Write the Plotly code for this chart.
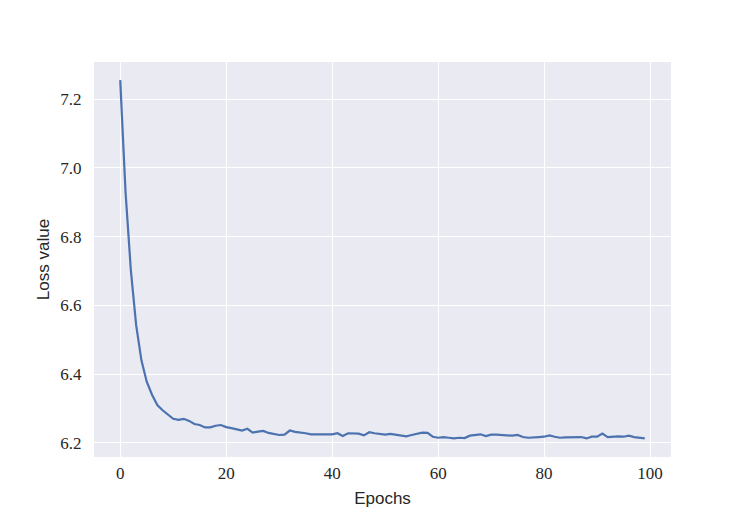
import plotly.graph_objects as go

epochs = list(range(100))
loss = [
    7.255, 6.930, 6.703, 6.543, 6.440, 6.378, 6.340, 6.310, 6.295, 6.283,
    6.270, 6.267, 6.270, 6.264, 6.255, 6.252, 6.245, 6.245, 6.250, 6.252,
    6.246, 6.243, 6.239, 6.236, 6.241, 6.230, 6.233, 6.235, 6.229, 6.225,
    6.223, 6.224, 6.236, 6.232, 6.231, 6.228, 6.225, 6.225, 6.226, 6.226,
    6.225, 6.228, 6.220, 6.228, 6.228, 6.227, 6.222, 6.231, 6.228, 6.227,
    6.224, 6.226, 6.224, 6.222, 6.219, 6.223, 6.227, 6.230, 6.229, 6.218,
    6.215, 6.217, 6.215, 6.213, 6.215, 6.214, 6.221, 6.222, 6.225, 6.220,
    6.224, 6.224, 6.223, 6.222, 6.221, 6.223, 6.217, 6.215, 6.215, 6.217,
    6.218, 6.222, 6.218, 6.215, 6.216, 6.216, 6.217, 6.217, 6.213, 6.218,
    6.218, 6.227, 6.217, 6.219, 6.219, 6.218, 6.221, 6.217, 6.214, 6.213,
]
x_ticks = [0, 20, 40, 60, 80, 100]
y_ticks = [6.2, 6.4, 6.6, 6.8, 7.0, 7.2]
x_label = "Epochs"
y_label = "Loss value"

fig = go.Figure()
fig.add_trace(go.Scatter(x=epochs, y=loss, mode="lines",
                         line=dict(color="#4C72B0", width=2.2)))

tick_font = dict(family="Liberation Serif, Times New Roman, serif", size=17, color="#262626")
title_font = dict(family="Liberation Sans, Arial, sans-serif", size=17, color="#262626")

fig.update_layout(
    width=747, height=514,
    margin=dict(l=86, r=84, t=54, b=65),
    paper_bgcolor="white",
    plot_bgcolor="#EAEAF2",
    showlegend=False,
    xaxis=dict(
        range=[-4.95, 103.95], tickvals=x_ticks, ticktext=[str(v) for v in x_ticks],
        showgrid=True, gridcolor="white", gridwidth=1.2, zeroline=False,
        ticks="outside", ticklen=1, tickcolor="rgba(0,0,0,0)",
        tickfont=tick_font,
        title=dict(text=x_label, font=title_font, standoff=9),
        showline=False,
    ),
    yaxis=dict(
        range=[6.159, 7.3076], tickvals=y_ticks, ticktext=[f"{v:.1f}" for v in y_ticks],
        showgrid=True, gridcolor="white", gridwidth=1.2, zeroline=False,
        ticks="outside", ticklen=8, tickcolor="rgba(0,0,0,0)",
        tickfont=tick_font,
        title=dict(text=y_label, font=title_font, standoff=6),
        showline=False,
    ),
)

fig.write_html("out.html")
